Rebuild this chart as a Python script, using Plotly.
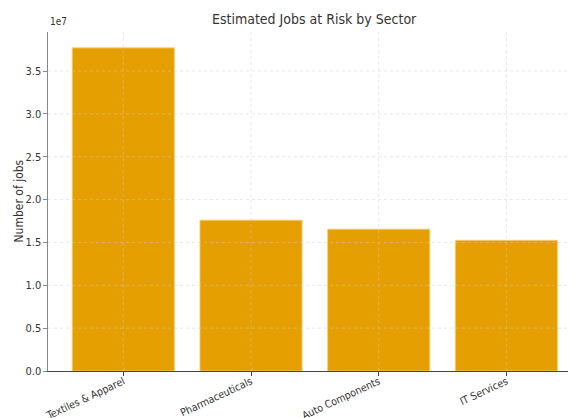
import plotly.graph_objects as go

sectors = ["Textiles & Apparel", "Pharmaceuticals", "Auto Components", "IT Services"]
jobs = [37.7e6, 17.6e6, 16.55e6, 15.25e6]
ytick_vals = [0, 0.5e7, 1.0e7, 1.5e7, 2.0e7, 2.5e7, 3.0e7, 3.5e7]
ytick_text = ["0.0", "0.5", "1.0", "1.5", "2.0", "2.5", "3.0", "3.5"]

FONT = "DejaVu Sans Condensed, DejaVu Sans, sans-serif"
x_idx = list(range(len(sectors)))

fig = go.Figure()
fig.add_trace(go.Bar(
    x=x_idx, y=jobs, width=0.8,
    marker=dict(color="#E69F00", line=dict(color="#f3cf80", width=0.8)),
))

grid = dict(color="rgba(205,205,205,0.6)", width=0.8, dash="dot")
shapes = []
for v in ytick_vals[1:]:
    shapes.append(dict(type="line", xref="paper", yref="y", x0=0, x1=1, y0=v, y1=v,
                       line=grid, layer="above"))
for i in x_idx:
    shapes.append(dict(type="line", xref="x", yref="paper", x0=i, x1=i, y0=0, y1=1,
                       line=grid, layer="above"))

fig.update_layout(
    width=568, height=410,
    margin=dict(l=40, r=0, t=24, b=47, autoexpand=False),
    paper_bgcolor="white", plot_bgcolor="white",
    showlegend=False,
    font=dict(family=FONT, size=11, color="#333"),
    title=dict(text="Estimated Jobs at Risk by Sector", x=0.539, xanchor="center",
               y=0.973, yanchor="middle", font=dict(size=14, color="#333", family=FONT)),
    xaxis=dict(range=[-0.59, 3.545], tickvals=x_idx, ticktext=sectors, tickangle=-25,
               showgrid=False, showline=True, linecolor="#444", linewidth=1,
               ticks="outside", ticklen=3.5, tickcolor="#444", zeroline=False,
               ticklabelstandoff=-4,
               automargin=False, tickfont=dict(size=10.5, color="#333")),
    yaxis=dict(range=[0, 3.955e7], tickvals=ytick_vals, ticktext=ytick_text,
               showgrid=False, showline=True, linecolor="#888", linewidth=1.2,
               ticks="outside", ticklen=3.5, tickcolor="#888", zeroline=False,
               automargin=False, tickfont=dict(size=11, color="#333")),
    shapes=shapes,
    annotations=[
        dict(text="1e7", xref="paper", yref="paper", x=0, y=1.0, xanchor="left",
             yanchor="bottom", yshift=3, showarrow=False, font=dict(size=10, color="#333")),
        dict(text="Number of jobs", xref="paper", yref="paper", x=0, y=0.5, xanchor="center",
             yanchor="middle", xshift=-30, textangle=-90, showarrow=False,
             font=dict(size=12, color="#333")),
    ],
)
fig.write_html("out.html")
